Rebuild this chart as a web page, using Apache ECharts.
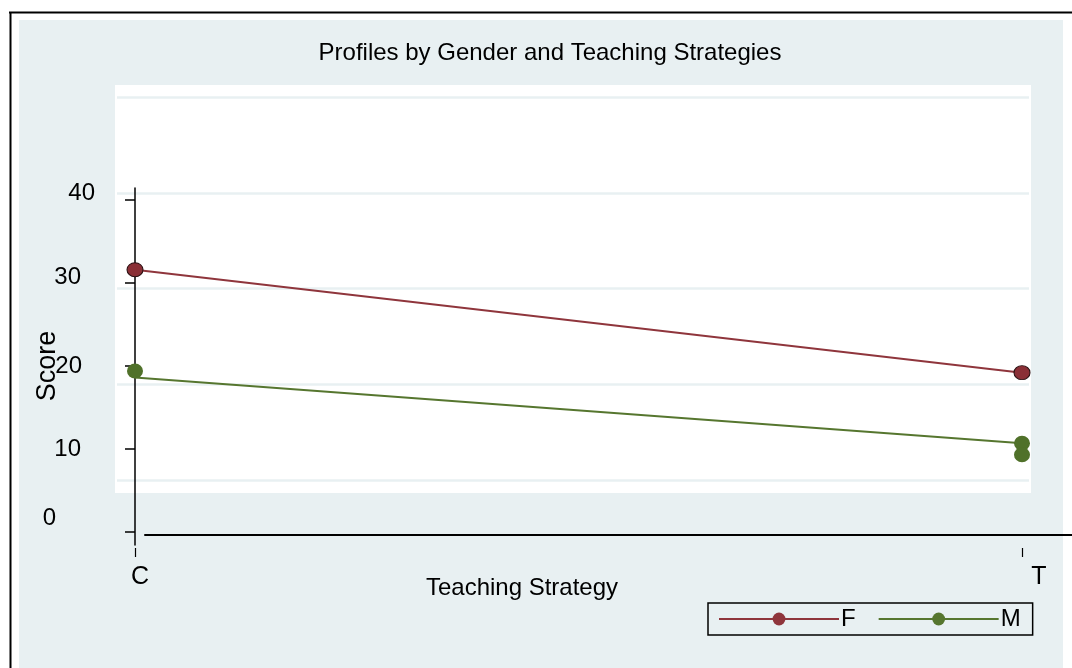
<!DOCTYPE html>
<html><head><meta charset="utf-8">
<script src="https://cdn.jsdelivr.net/npm/echarts@6/dist/echarts.min.js"></script>
<style>html,body{margin:0;padding:0;background:#fff}#c{width:1072px;height:668px}</style>
</head><body><div id="c"></div>
<script>
const categories = ['C', 'T'];
const yTicks = [0, 10, 20, 30, 40];
const fLine = [31.6, 19.2];
const mLine = [18.6, 10.7];
const fPoints = [['C', 31.6], ['T', 19.2]];
const mPoints = [['C', 19.4], ['T', 10.7], ['T', 9.3]];
const seriesNames = ['F', 'M'];

const FONT = 'Liberation Sans';
const BG = '#e8f0f2';
const RED = '#8f353c';
const GREEN = '#56762f';

// per-label nudges (the original picture has its tick labels slightly displaced)
const yLabelStyles = {
  v0: {padding: [0, 39, 28, 0]},
  v10: {padding: [0, 14, 0, 0]},
  v20: {padding: [0, 13, 0, 0]},
  v30: {padding: [0, 14, 12, 0]},
  v40: {padding: [0, 0, 14, 0]}
};
Object.values(yLabelStyles).forEach(s => { s.fontFamily = FONT; s.fontSize = 24; s.color = '#000'; s.align = 'right'; });
const xLabelStyles = {
  c: {padding: [0, 0, 0, 10]},
  t: {padding: [0, 0, 6, 34]}
};
Object.values(xLabelStyles).forEach(s => { s.fontFamily = FONT; s.fontSize = 25; s.color = '#000'; });

const chart = echarts.init(document.getElementById('c'), null, {renderer: 'canvas'});
chart.setOption({
  backgroundColor: '#ffffff',
  animation: false,
  graphic: [
    {type: 'rect', shape: {x: 19, y: 20, width: 1044, height: 660}, style: {fill: BG}, z: -10},
    {type: 'rect', shape: {x: 115, y: 85, width: 916, height: 408}, style: {fill: '#ffffff'}, z: -9},
    {type: 'line', shape: {x1: 9, y1: 12.5, x2: 1072, y2: 12.5}, style: {stroke: '#000', lineWidth: 2}, z: -8},
    {type: 'line', shape: {x1: 10.5, y1: 12, x2: 10.5, y2: 668}, style: {stroke: '#000', lineWidth: 2}, z: -8}
  ],
  title: [
    {text: 'Profiles by Gender and Teaching Strategies', left: 545, top: 36, textAlign: 'center',
     textStyle: {fontFamily: FONT, fontSize: 24, fontWeight: 'normal', color: '#000'}},
    {text: 'Teaching Strategy', left: 517, top: 571, textAlign: 'center',
     textStyle: {fontFamily: FONT, fontSize: 24, fontWeight: 'normal', color: '#000'}}
  ],
  legend: {
    data: seriesNames, left: 708, top: 603, orient: 'horizontal',
    backgroundColor: BG, borderColor: '#000', borderWidth: 1.5,
    padding: [4, 12, 4, 10], itemGap: 22, itemWidth: 120, itemHeight: 16,
    itemStyle: {borderWidth: 0},
    textStyle: {fontFamily: FONT, fontSize: 24, color: '#000', padding: [0, 0, 0, -3]}
  },
  grid: [
    {left: 135, right: 50, top: 200, bottom: 136},
    {left: 135, right: 40, top: 188, bottom: 123},
    {left: 145, right: 0, top: 100, bottom: 133},
    {left: 117, right: 43, top: 97, bottom: 188},
    {left: 135, right: 50, top: 300, bottom: 120}
  ],
  xAxis: [
    {gridIndex: 0, type: 'category', data: categories, boundaryGap: false, show: false},
    {gridIndex: 1, type: 'value', show: false},
    {gridIndex: 2, type: 'value', min: 0, max: 1, axisLine: {show: true, lineStyle: {color: '#000', width: 2}},
     axisTick: {show: false}, axisLabel: {show: false}, splitLine: {show: false}},
    {gridIndex: 3, type: 'value', show: false},
    {gridIndex: 4, type: 'category', data: categories, boundaryGap: false,
     axisLine: {show: false}, axisTick: {show: true, length: 9, alignWithLabel: true, lineStyle: {color: '#000', width: 1.2}},
     axisLabel: {margin: 17, formatter: v => '{' + v.toLowerCase() + '|' + v + '}', rich: xLabelStyles},
     splitLine: {show: false}}
  ],
  yAxis: [
    {gridIndex: 0, type: 'value', min: 0, max: 40, interval: 10,
     name: 'Score', nameLocation: 'middle', nameGap: 74, nameRotate: 90, nameMoveOverlap: false,
     nameTextStyle: {fontFamily: FONT, fontSize: 27, color: '#000'},
     axisLine: {show: false},
     axisTick: {show: true, length: 10, lineStyle: {color: '#000', width: 1.5}},
     axisLabel: {margin: 40, formatter: v => '{v' + v + '|' + v + '}', rich: yLabelStyles},
     splitLine: {show: false}},
    {gridIndex: 1, type: 'value', min: 0, max: 1, axisLine: {show: true, lineStyle: {color: '#000', width: 1.5}},
     axisTick: {show: false}, axisLabel: {show: false}, splitLine: {show: false}},
    {gridIndex: 2, type: 'value', show: false},
    {gridIndex: 3, type: 'value', min: 0, max: 4, interval: 1,
     axisLine: {show: false}, axisTick: {show: false}, axisLabel: {show: false},
     splitLine: {show: true, lineStyle: {color: BG, width: 2.5}}, z: 0},
    {gridIndex: 4, type: 'value', show: false}
  ],
  series: [
    {name: 'F', type: 'line', xAxisIndex: 0, yAxisIndex: 0, data: fLine, showSymbol: false,
     symbol: 'circle', symbolSize: 14,
     lineStyle: {color: RED, width: 2}, itemStyle: {color: RED, borderColor: '#3b1416', borderWidth: 1}},
    {name: 'M', type: 'line', xAxisIndex: 0, yAxisIndex: 0, data: mLine, showSymbol: false,
     symbol: 'circle', symbolSize: 14,
     lineStyle: {color: GREEN, width: 2}, itemStyle: {color: GREEN}},
    {name: 'Fpts', type: 'scatter', xAxisIndex: 0, yAxisIndex: 0, data: fPoints, symbol: 'circle',
     symbolSize: [16, 14], itemStyle: {color: '#8a2f36', borderColor: '#2a1012', borderWidth: 1, opacity: 1}, z: 3},
    {name: 'Mpts', type: 'scatter', xAxisIndex: 0, yAxisIndex: 0, data: mPoints, symbol: 'circle',
     symbolSize: [16, 15], itemStyle: {color: '#50712a', opacity: 1}, z: 3}
  ]
});
</script>
</body></html>
